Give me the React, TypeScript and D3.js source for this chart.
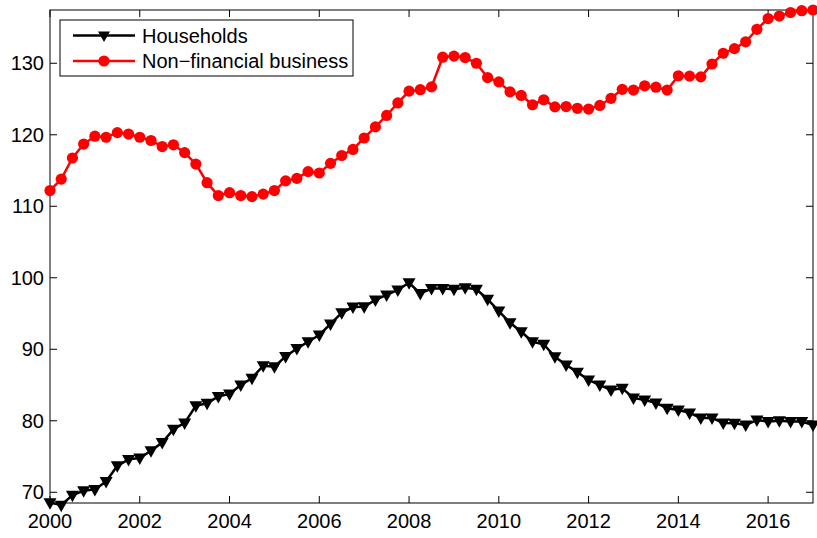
import React, { useEffect, useRef } from 'react';
import * as d3 from 'd3';

// quarterly observations, 2000Q1 .. 2017Q1
const startYear = 2000;
const households = [
  68.55, 68.2, 69.6, 70.2, 70.4, 71.5, 73.7, 74.6, 74.8, 75.8,
  76.95, 78.8, 79.7, 82.1, 82.45, 83.4, 83.75, 85.0, 85.95, 87.7,
  87.55, 89.0, 90.1, 91.05, 92.0, 93.55, 95.1, 95.9, 95.95, 96.9,
  97.6, 98.3, 99.3, 97.8, 98.5, 98.5, 98.4, 98.6, 98.4, 97.0,
  95.35, 93.7, 92.45, 91.05, 90.7, 88.95, 87.8, 86.8, 85.7, 85.0,
  84.3, 84.55, 83.2, 82.9, 82.5, 81.75, 81.5, 81.1, 80.4, 80.4,
  79.7, 79.65, 79.4, 80.1, 79.9, 80.0, 79.9, 79.9, 79.4,
];
const nonFinancial = [
  112.2, 113.8, 116.75, 118.7, 119.8, 119.65, 120.3, 120.1, 119.65, 119.2,
  118.35, 118.6, 117.5, 115.9, 113.3, 111.5, 111.9, 111.5, 111.35, 111.7,
  112.2, 113.55, 113.9, 114.85, 114.65, 116.0, 117.1, 117.95, 119.55, 121.1,
  122.7, 124.45, 126.1, 126.3, 126.7, 130.85, 131.0, 130.8, 130.0, 128.0,
  127.4, 126.0, 125.5, 124.2, 124.9, 123.9, 123.95, 123.7, 123.6, 124.1,
  125.1, 126.35, 126.25, 126.85, 126.65, 126.25, 128.25, 128.2, 128.1, 129.9,
  131.4, 132.05, 133.0, 134.75, 136.25, 136.6, 137.1, 137.35, 137.45,
];
const xTicks = [2000, 2002, 2004, 2006, 2008, 2010, 2012, 2014, 2016];
const yTicks = [70, 80, 90, 100, 110, 120, 130];
const seriesNames = ['Households', 'Non\u2212financial business'];

const W = 817;
const H = 538;
const FONT = '"Liberation Sans", Arial, Helvetica, sans-serif';
const FS = '20px';

export default function App() {
  const ref = useRef<SVGSVGElement>(null);

  useEffect(() => {
    const svg = d3.select(ref.current);
    svg.selectAll('*').remove();

    const left = 50, right = 813, top = 10, bottom = 503;
    const x = d3.scaleLinear().domain([2000, 2017]).range([left, right]);
    const y = d3.scaleLinear().domain([68.5, 137.45]).range([bottom, top]);

    svg.append('rect').attr('width', W).attr('height', H).attr('fill', '#fff');

    const tick = 7;
    const ax = svg.append('g').attr('stroke', '#000').attr('stroke-width', 1);
    ax.append('rect')
      .attr('x', left).attr('y', top)
      .attr('width', right - left).attr('height', bottom - top)
      .attr('fill', 'none');
    xTicks.forEach(t => {
      ax.append('line').attr('x1', x(t)).attr('x2', x(t)).attr('y1', bottom).attr('y2', bottom - tick);
      ax.append('line').attr('x1', x(t)).attr('x2', x(t)).attr('y1', top).attr('y2', top + tick);
    });
    yTicks.forEach(t => {
      ax.append('line').attr('x1', left).attr('x2', left + tick).attr('y1', y(t)).attr('y2', y(t));
      ax.append('line').attr('x1', right).attr('x2', right - tick).attr('y1', y(t)).attr('y2', y(t));
    });

    svg.append('g').selectAll('text').data(xTicks).enter().append('text')
      .attr('x', d => x(d)).attr('y', 528)
      .attr('text-anchor', 'middle')
      .style('font-family', FONT).style('font-size', FS)
      .text(d => d);

    svg.append('g').selectAll('text').data(yTicks).enter().append('text')
      .attr('x', 44).attr('y', d => y(d)).attr('dy', '0.35em')
      .attr('text-anchor', 'end')
      .style('font-family', FONT).style('font-size', FS)
      .text(d => d);

    const tri = 'M-6.5,-4.5L6.5,-4.5L0,7Z';
    const triSmall = 'M-6,-4L6,-4L0,6.5Z';
    const t = (i: number) => startYear + i / 4;

    const line = d3.line<number>().x((_, i) => x(t(i))).y(d => y(d));

    // households
    svg.append('path').datum(households)
      .attr('d', line).attr('fill', 'none')
      .attr('stroke', '#000').attr('stroke-width', 2.5);
    svg.append('g').selectAll('path').data(households).enter().append('path')
      .attr('d', tri)
      .attr('transform', (d, i) => `translate(${x(t(i))},${y(d)})`)
      .attr('fill', '#000');

    // non-financial business
    svg.append('path').datum(nonFinancial)
      .attr('d', line).attr('fill', 'none')
      .attr('stroke', '#ff0000').attr('stroke-width', 2.5);
    svg.append('g').selectAll('circle').data(nonFinancial).enter().append('circle')
      .attr('cx', (_, i) => x(t(i))).attr('cy', d => y(d))
      .attr('r', 5.6).attr('fill', '#ff0000');

    // legend
    const lg = svg.append('g');
    lg.append('rect')
      .attr('x', 60).attr('y', 20).attr('width', 293).attr('height', 56)
      .attr('fill', '#fff').attr('stroke', '#000').attr('stroke-width', 1);
    const rows = [35.5, 61];
    seriesNames.forEach((name, i) => {
      const c = i === 0 ? '#000' : '#ff0000';
      lg.append('line').attr('x1', 73).attr('x2', 135).attr('y1', rows[i]).attr('y2', rows[i])
        .attr('stroke', c).attr('stroke-width', 2.7);
      if (i === 0) {
        lg.append('path').attr('d', triSmall).attr('transform', `translate(104,${rows[i]})`).attr('fill', c);
      } else {
        lg.append('circle').attr('cx', 104).attr('cy', rows[i]).attr('r', 5.6).attr('fill', c);
      }
      lg.append('text').attr('x', 142).attr('y', rows[i]).attr('dy', '0.35em')
        .style('font-family', FONT).style('font-size', FS)
        .text(name);
    });
  }, []);

  return (
    <svg
      ref={ref}
      width={W}
      height={H}
      style={{ position: 'absolute', left: 0, top: 0 }}
      role="img"
      aria-label="Households and non-financial business series, 2000-2017"
    ></svg>
  );
}
